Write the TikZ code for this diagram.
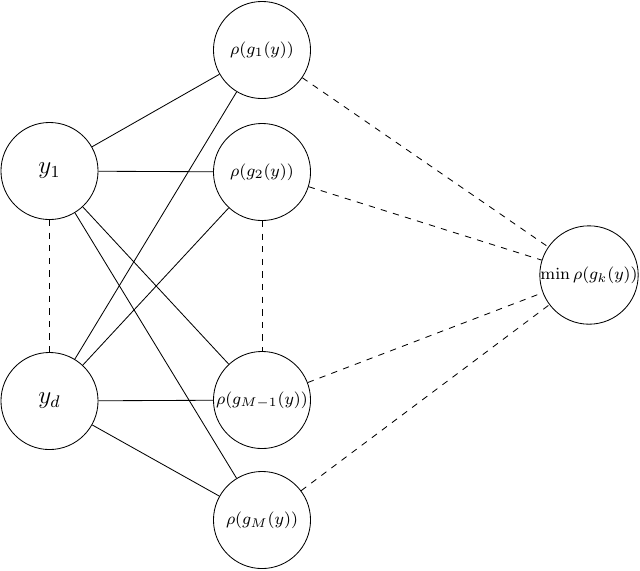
\documentclass[tikz,border=0pt]{standalone}
\begin{document}
\begin{tikzpicture}[x=0.476pt,y=-0.476pt,
  neuron/.style={draw,circle,minimum size=46.2pt,inner sep=0pt},
  big/.style={neuron,font=\large},
  small/.style={neuron,font=\footnotesize},
  link/.style={},
  dlink/.style={dashed}]
\useasboundingbox (0,0) rectangle (640,570);
\node[big] (y1) at (49.5,171) {$y_1$};
\node[big] (yd) at (49.5,401) {$y_d$};
\node[small] (g1) at (262,50) {$\rho(g_1(y))$};
\node[small] (g2) at (262,172) {$\rho(g_2(y))$};
\node[small] (gm1) at (262,400) {$\rho(g_{M-1}(y))$};
\node[small] (gm) at (262,520) {$\rho(g_M(y))$};
\node[small] (mn) at (589,275) {$\min\rho(g_k(y))$};
\foreach \a in {y1,yd}{
  \foreach \b in {g1,g2,gm1,gm}{
    \draw[link] (\a) -- (\b);
  }
}
\draw[dlink] (y1) -- (yd);
\draw[dlink] (g2) -- (gm1);
\foreach \b in {g1,g2,gm1,gm}{
  \draw[dlink] (\b) -- (mn);
}
\end{tikzpicture}
\end{document}
